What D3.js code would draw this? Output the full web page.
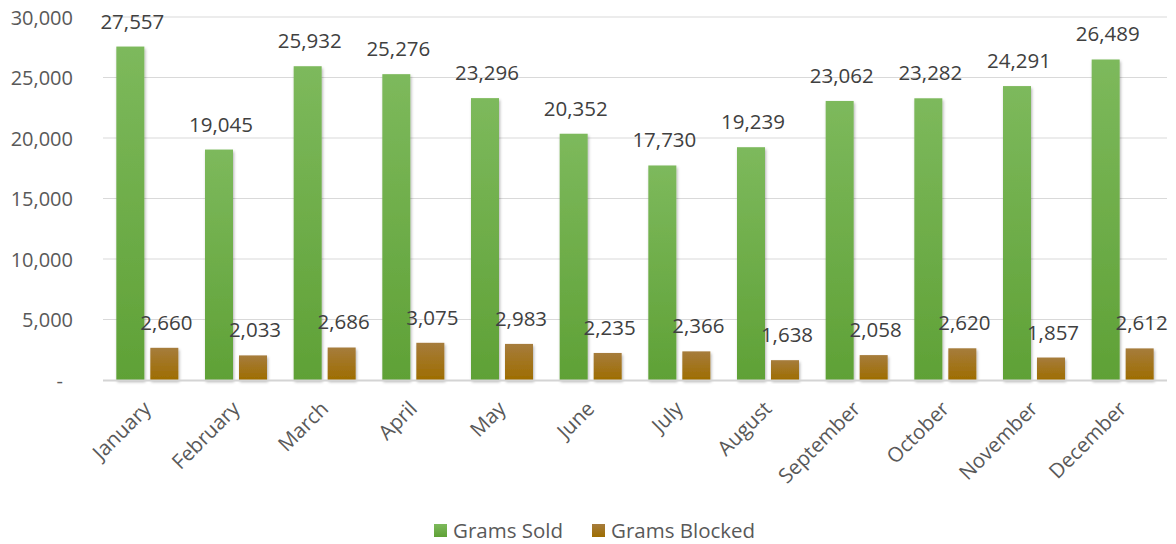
<!DOCTYPE html>
<html>
<head>
<meta charset="utf-8">
<script src="https://cdn.jsdelivr.net/npm/d3@7"></script>
<style>
  html, body { margin: 0; padding: 0; background: #fff; }
  svg { display: block; font-family: "Open Sans", "Noto Sans", sans-serif; }
</style>
</head>
<body>
<svg id="chart" width="1176" height="544"></svg>
<script>
const months = ["January","February","March","April","May","June","July","August","September","October","November","December"];
const gramsSold = [27557,19045,25932,25276,23296,20352,17730,19239,23062,23282,24291,26489];
const gramsBlocked = [2660,2033,2686,3075,2983,2235,2366,1638,2058,2620,1857,2612];
const seriesNames = ["Grams Sold","Grams Blocked"];
const yTicks = [0,5000,10000,15000,20000,25000,30000];

const svg = d3.select("#chart");
const plot = {left: 103, right: 1167, top: 17, bottom: 380};

const defs = svg.append("defs");
function grad(id, top, bottom) {
  const g = defs.append("linearGradient").attr("id", id)
    .attr("x1", 0).attr("y1", 0).attr("x2", 0).attr("y2", 1);
  g.append("stop").attr("offset", "0%").attr("stop-color", top);
  g.append("stop").attr("offset", "100%").attr("stop-color", bottom);
}
grad("gSold", "#7db95c", "#5fa136");
grad("gBlocked", "#a67c3c", "#9e6d00");
const f = defs.append("filter").attr("id", "shadow")
  .attr("x", "-30%").attr("y", "-10%").attr("width", "160%").attr("height", "130%");
f.append("feDropShadow").attr("dx", 1).attr("dy", 2).attr("stdDeviation", 1.8)
  .attr("flood-color", "#000").attr("flood-opacity", 0.3);

const y = d3.scaleLinear().domain([0, 30000]).range([plot.bottom, plot.top]);
const x0 = d3.scaleBand().domain(months).range([plot.left, plot.right]).paddingInner(0).paddingOuter(0);
const x1 = d3.scaleBand().domain(seriesNames).range([0, 62]).paddingInner(6 / 34).paddingOuter(0);
const groupOffset = x0.bandwidth() / 2 - 31;

const fmt = d3.format(",");
svg.append("g").selectAll("line")
  .data(yTicks.filter(d => d > 0))
  .join("line")
  .attr("x1", plot.left).attr("x2", plot.right)
  .attr("y1", d => y(d)).attr("y2", d => y(d))
  .attr("stroke", "#d9d9d9").attr("stroke-width", 1);

const yAxis = d3.axisLeft(y).tickValues(yTicks).tickSize(0).tickPadding(0)
  .tickFormat(d => d === 0 ? "-" : fmt(d));
const yg = svg.append("g").attr("transform", "translate(73,0)").call(yAxis);
yg.select(".domain").remove();
yg.selectAll("text")
  .attr("fill", "#595959").attr("font-size", 20)
  .attr("font-family", "Open Sans, Noto Sans, sans-serif")
  .attr("dy", "0.35em")
  .attr("dx", d => d === 0 ? -10 : 0);

const data = months.map((m, i) => ({month: m, values: [
  {series: seriesNames[0], value: gramsSold[i], fill: "url(#gSold)"},
  {series: seriesNames[1], value: gramsBlocked[i], fill: "url(#gBlocked)"}
]}));

const groups = svg.append("g").selectAll("g")
  .data(data).join("g")
  .attr("transform", d => `translate(${x0(d.month) + groupOffset},0)`);

groups.selectAll("rect")
  .data(d => d.values).join("rect")
  .attr("x", d => x1(d.series))
  .attr("width", x1.bandwidth())
  .attr("y", d => y(d.value))
  .attr("height", d => y(0) - y(d.value))
  .attr("fill", d => d.fill)
  .attr("filter", "url(#shadow)");

svg.append("line")
  .attr("x1", plot.left).attr("x2", plot.right)
  .attr("y1", y(0) + 0.5).attr("y2", y(0) + 0.5)
  .attr("stroke", "#d4d4d4").attr("stroke-width", 2);

groups.selectAll("text.lbl")
  .data(d => d.values).join("text")
  .attr("class", "lbl")
  .attr("x", d => x1(d.series) + x1.bandwidth() / 2 + 2)
  .attr("y", d => y(d.value) - 18)
  .attr("text-anchor", "middle")
  .attr("font-size", 20.5)
  .attr("fill", "#404040")
  .text(d => fmt(d.value));

const xAxis = d3.axisBottom(x0).tickSize(0).tickPadding(0);
const xg = svg.append("g").attr("transform", `translate(0,${plot.bottom})`).call(xAxis);
xg.select(".domain").remove();
xg.selectAll("text")
  .attr("fill", "#595959").attr("font-size", 20.5)
  .attr("font-family", "Open Sans, Noto Sans, sans-serif")
  .attr("text-anchor", "end")
  .attr("dy", 0)
  .attr("transform", "translate(5,30) rotate(-45)");

const legend = svg.append("g");
const legendItems = [
  {name: seriesNames[0], fill: "url(#gSold)", x: 434},
  {name: seriesNames[1], fill: "url(#gBlocked)", x: 592}
];
legendItems.forEach(it => {
  legend.append("rect").attr("x", it.x).attr("y", 524).attr("width", 13).attr("height", 13).attr("fill", it.fill);
  legend.append("text").attr("x", it.x + 19).attr("y", 538).attr("font-size", 20.5)
    .attr("fill", "#595959").text(it.name);
});
</script>
</body>
</html>
